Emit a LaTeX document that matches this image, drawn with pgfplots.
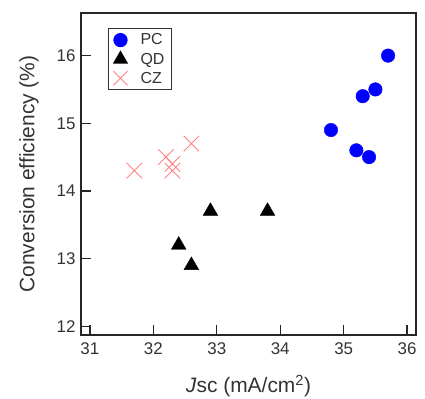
\documentclass[border=0pt]{standalone}
\usepackage{fontspec}
\setmainfont{Liberation Sans}
\usepackage{pgfplots}
\pgfplotsset{compat=1.18}
\definecolor{pcblue}{RGB}{0,0,255}
\definecolor{czpink}{RGB}{255,130,130}
\begin{document}
\begin{tikzpicture}
\begin{axis}[
  width=335bp, height=322bp, scale only axis,
  xmin=30.86, xmax=36.14, ymin=11.87, ymax=16.63,
  xtick={31,32,33,34,35,36}, ytick={12,13,14,15,16},
  tick align=inside, xtick pos=bottom, ytick pos=left,
  major tick length=10bp,
  axis line style={line width=1.5bp, black!85},
  every tick/.style={line width=1.3bp, black!85},
  tick label style={font=\fontsize{17}{17}\selectfont, text=black!80},
  /pgf/number format/assume math mode=true,
  xticklabel style={yshift=-4bp},
  yticklabel style={xshift=-2bp},
  xlabel={\textit{J}sc (mA/cm\textsuperscript{2})},
  ylabel={Conversion efficiency (\%)},
  every axis x label/.style={at={(axis description cs:0.5,-0.158)}, anchor=center,
    font=\fontsize{21}{21}\selectfont, text=black!80},
  every axis y label/.style={at={(axis description cs:-0.155,0.5)}, rotate=90, anchor=center,
    font=\fontsize{21}{21}\selectfont, text=black!80},
  legend style={at={(axis description cs:0.08,0.953)}, anchor=north west,
    draw=black!80, line width=1.3bp, font=\fontsize{16}{16}\selectfont,
    text=black!80, row sep=2.5bp, inner xsep=5bp, inner ysep=3bp},
  legend cell align=left,
]
\addplot[only marks, mark=*, mark size=6.8pt, color=pcblue, mark options={fill=pcblue},
  legend image post style={mark size=6.5pt}]
  coordinates {(34.8,14.9) (35.2,14.6) (35.3,15.4) (35.4,14.5) (35.5,15.5) (35.7,16.0)};
\addlegendentry{\hspace{11bp}PC}
\addplot[only marks, mark=triangle*, mark size=8.5pt, color=black, mark options={fill=black},
  legend image post style={mark size=7.5pt}]
  coordinates {(32.4,13.2) (32.6,12.9) (32.9,13.7) (33.8,13.7)};
\addlegendentry{\hspace{11bp}QD}
\addplot[only marks, mark=x, mark size=11pt, color=czpink, mark options={line width=0.9bp},
  legend image post style={mark size=10pt}]
  coordinates {(31.7,14.3) (32.2,14.5) (32.3,14.4) (32.3,14.3) (32.6,14.7)};
\addlegendentry{\hspace{11bp}CZ}
\end{axis}
\pgfresetboundingbox
\path (current axis.south west) ++(-81bp,-64bp) rectangle ++(425bp,399bp);
\end{tikzpicture}
\end{document}
